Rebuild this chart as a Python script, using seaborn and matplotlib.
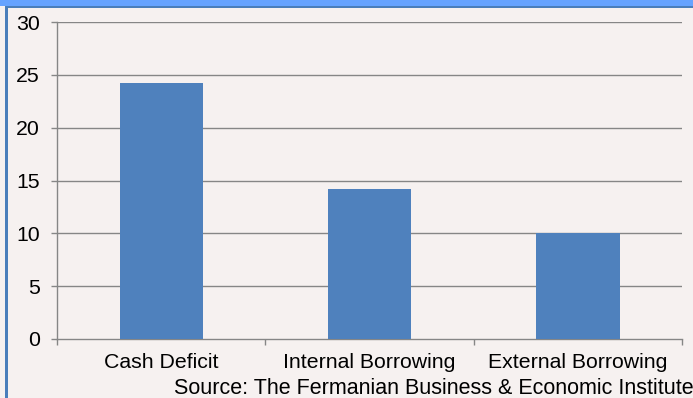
import matplotlib
matplotlib.use("Agg")
import matplotlib.pyplot as plt
import seaborn as sns
import pandas as pd
from matplotlib.patches import Rectangle

categories = ["Cash Deficit", "Internal Borrowing", "External Borrowing"]
values = [24.2, 14.2, 10.0]
y_ticks = [0, 5, 10, 15, 20, 25, 30]
source_text = "Source: The Fermanian Business & Economic Institute"

BG = "#F6F1F0"
BAR = "#4F81BD"
GRID = "#868686"
FS = 15.3

sns.set_theme(style="white")
plt.rcParams["font.family"] = ["Liberation Sans", "DejaVu Sans"]

W, H = 693, 398
fig = plt.figure(figsize=(W / 100, H / 100), dpi=100, facecolor=BG)
ax = fig.add_axes([57 / W, 1 - 339 / H, (682 - 57) / W, (339 - 22) / H])
ax.set_facecolor(BG)

df = pd.DataFrame({"category": categories, "value": values})
sns.barplot(data=df, x="category", y="value", color=BAR, width=0.4,
            saturation=1, ax=ax, zorder=3, edgecolor="none")

ax.set_xlim(-0.5, 2.5)
ax.set_ylim(0, 30)
ax.set_yticks(y_ticks)
ax.set_yticklabels([str(t) for t in y_ticks])
ax.set_xlabel("")
ax.set_ylabel("")

for t in y_ticks[1:]:
    ax.axhline(t, color=GRID, lw=1.0, zorder=1)

for side in ["top", "right"]:
    ax.spines[side].set_visible(False)
for side in ["left", "bottom"]:
    ax.spines[side].set_color(GRID)
    ax.spines[side].set_linewidth(1.0)

ax.tick_params(axis="y", which="major", length=4.3, width=1.0, color=GRID,
               pad=8, labelsize=FS, labelcolor="black", left=True)
ax.tick_params(axis="x", which="major", length=0, pad=10, labelsize=FS,
               labelcolor="black")
ax.set_xticks([-0.5, 0.5, 1.5, 2.5], minor=True)
ax.tick_params(axis="x", which="minor", length=4.3, width=1.0, color=GRID,
               bottom=True)

fig.text(694 / W, 4 / H, source_text, ha="right", va="baseline",
         fontsize=15.5, color="black")

# frame decorations
fig.patches.append(Rectangle((0, 1 - 6 / H), 1, 6 / H, transform=fig.transFigure,
                             facecolor="#66A3FF", edgecolor="none", zorder=5))
fig.patches.append(Rectangle((5 / W, 1 - 8 / H), 1, 2 / H, transform=fig.transFigure,
                             facecolor="#4A7EBB", edgecolor="none", zorder=5))
fig.patches.append(Rectangle((5 / W, 0), 3 / W, 1 - 6 / H, transform=fig.transFigure,
                             facecolor="#4A7EBB", edgecolor="none", zorder=5))

fig.savefig("out.png", dpi=100, facecolor=BG)
